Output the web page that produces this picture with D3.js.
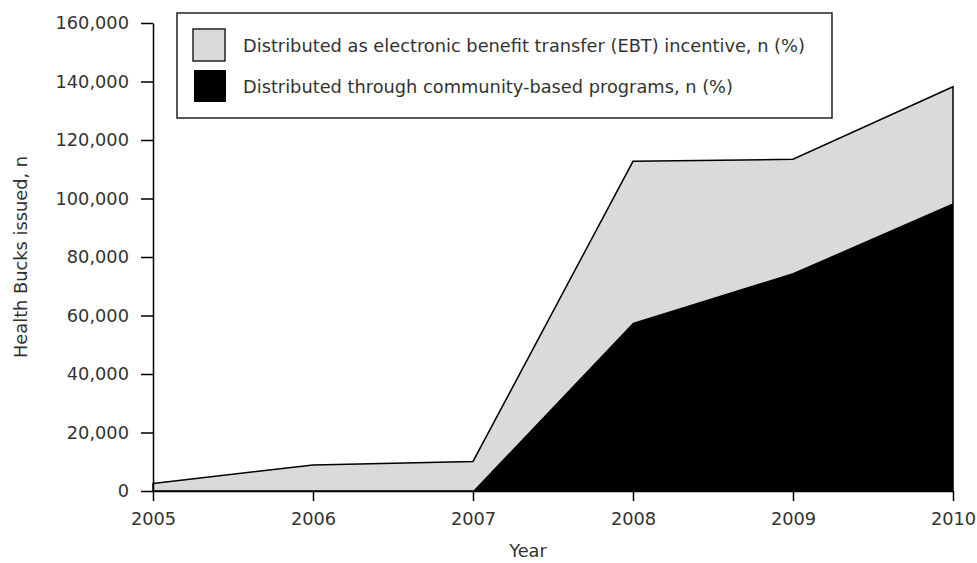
<!DOCTYPE html>
<html><head><meta charset="utf-8">
<script src="https://cdn.jsdelivr.net/npm/d3@7"></script>
<style>body{margin:0;background:#fff}text{font-family:"DejaVu Sans",Verdana,sans-serif;fill:#333}</style>
</head><body><svg id="c" width="977" height="563"></svg>
<script>
const years = [2005, 2006, 2007, 2008, 2009, 2010];
const community = [0, 0, 0, 57500, 74500, 98400];
const ebt = [2600, 8900, 10100, 55200, 38900, 39800];
const yTicks = [0, 20000, 40000, 60000, 80000, 100000, 120000, 140000, 160000];
const seriesNames = ["Distributed as electronic benefit transfer (EBT) incentive, n (%)", "Distributed through community-based programs, n (%)"];

const FS = "17.8px";
const svg = d3.select("#c");
const x = d3.scaleLinear().domain([2005, 2010]).range([153, 953]);
const y = d3.scaleLinear().domain([0, 160000]).range([491, 23]);
const data = years.map((yr, i) => ({yr, community: community[i], ebt: ebt[i]}));
const stack = d3.stack().keys(["community", "ebt"])(data);

const area = d3.area().x(d => x(d.data.yr)).y0(d => y(d[0])).y1(d => y(d[1]));
const total = d3.area().x(d => x(d.yr)).y0(y(0)).y1(d => y(d.community + d.ebt));
svg.append("path").datum(data).attr("d", total).attr("fill", "#dadada").attr("stroke", "#000").attr("stroke-width", 1.5).attr("stroke-linejoin", "miter");
svg.append("path").datum(stack[0]).attr("d", area).attr("fill", "#000");

const fmt = d3.format(",");
const yAxis = svg.append("g").attr("transform", `translate(${x(2005)},0)`)
  .call(d3.axisLeft(y).tickValues(yTicks).tickFormat(fmt).tickSize(12).tickSizeOuter(0).tickPadding(12));
const xAxis = svg.append("g").attr("transform", `translate(0,${y(0)})`)
  .call(d3.axisBottom(x).tickValues(years).tickFormat(d3.format("d")).tickSize(10).tickSizeOuter(0).tickPadding(11));
[yAxis, xAxis].forEach(g => {
  g.selectAll("path,line").attr("stroke", "#000").attr("stroke-width", 1.5);
  g.selectAll("text").style("font-size", FS).attr("fill", "#333");
});

svg.append("text").attr("transform", "translate(27,257) rotate(-90)").attr("text-anchor", "middle").style("font-size", FS).text("Health Bucks issued, n");
svg.append("text").attr("x", 528).attr("y", 557).attr("text-anchor", "middle").style("font-size", FS).text("Year");

// legend
const lg = svg.append("g");
lg.append("rect").attr("x", 177).attr("y", 13).attr("width", 655).attr("height", 105).attr("fill", "#fff").attr("stroke", "#222").attr("stroke-width", 1.5);
lg.append("rect").attr("x", 193).attr("y", 29).attr("width", 32).attr("height", 32).attr("fill", "#dadada").attr("stroke", "#222").attr("stroke-width", 1.5);
lg.append("rect").attr("x", 194).attr("y", 70).attr("width", 32).attr("height", 32).attr("fill", "#000");
lg.append("text").attr("x", 243).attr("y", 52).style("font-size", FS).text(seriesNames[0]);
lg.append("text").attr("x", 243).attr("y", 93).style("font-size", FS).text(seriesNames[1]);
</script></body></html>
